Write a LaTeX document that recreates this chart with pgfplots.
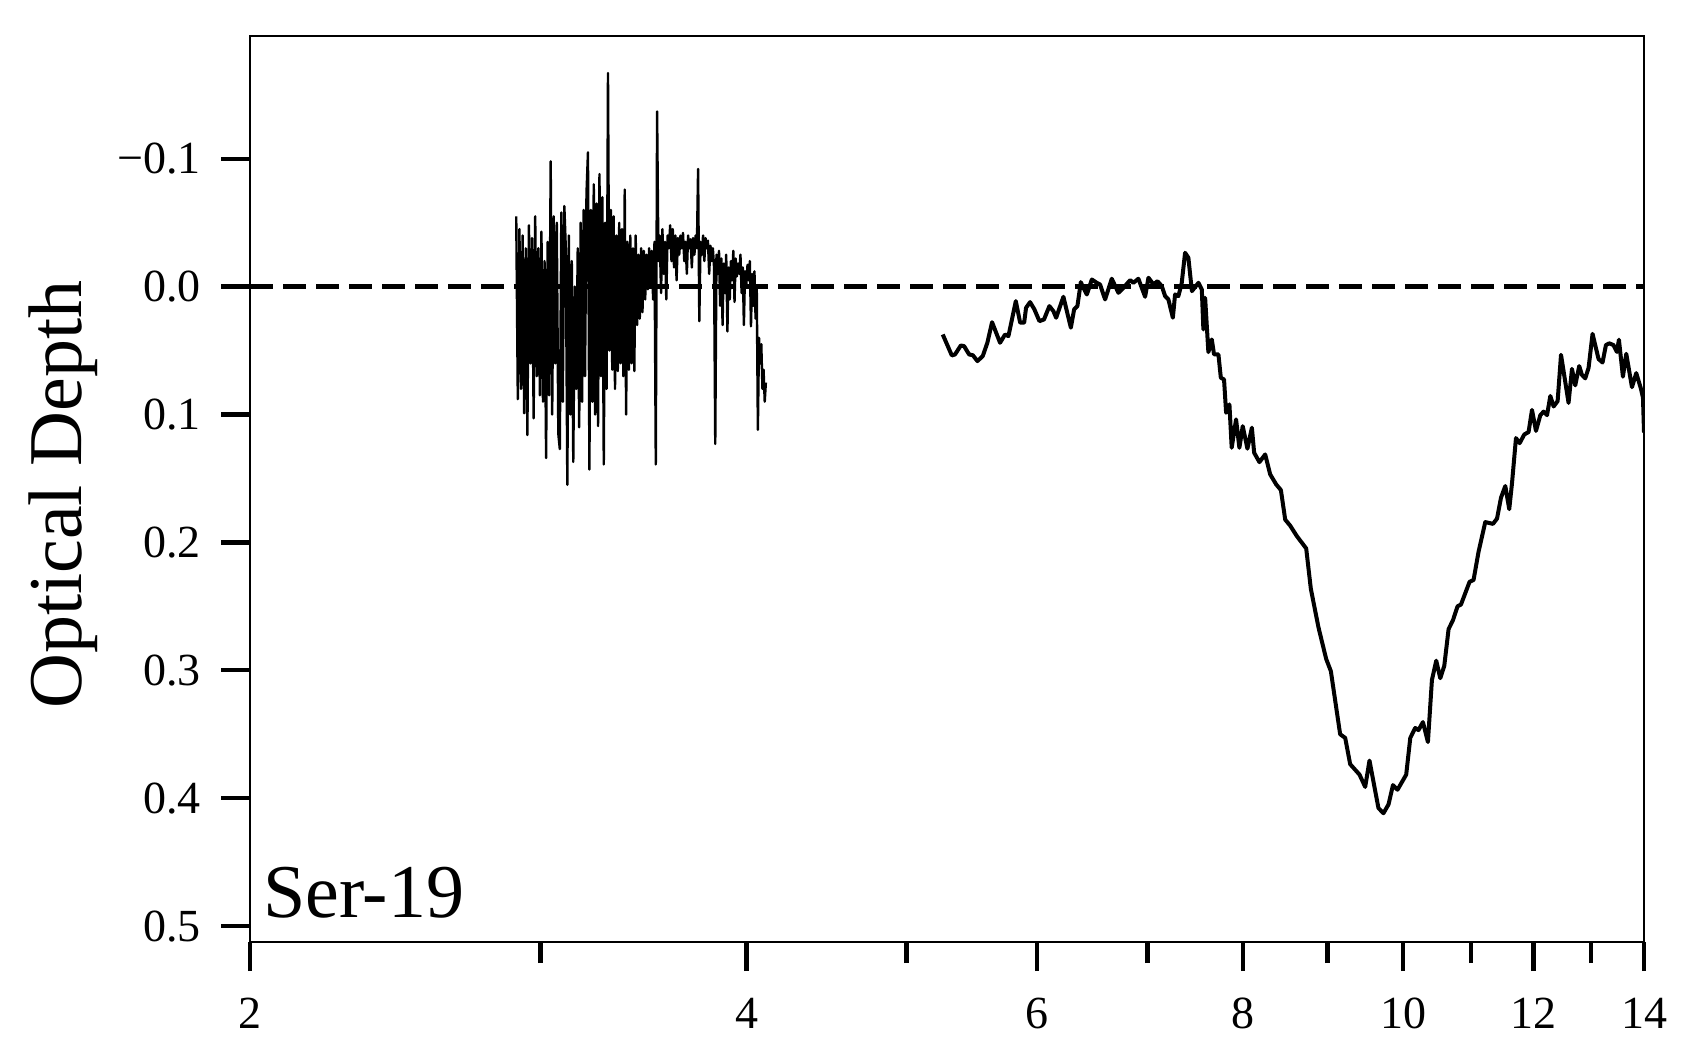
\documentclass[border=0pt]{standalone}
\usepackage{fontspec}
\setmainfont{Liberation Serif}
\usepackage{pgfplots}
\pgfplotsset{compat=1.18}
\begin{document}
\begin{tikzpicture}
\useasboundingbox (-62.5pt,-30pt) rectangle (362.25pt,235.5pt);
\begin{axis}[
  at={(0pt,0pt)}, anchor=south west,
  scale only axis, width=348.5pt, height=226.5pt,
  xmode=log, xmin=2, xmax=14,
  ymin=-0.196, ymax=0.5125, y dir=reverse,
  xtick={2,4,6,8,10,12,14}, xticklabels={2,4,6,8,10,12,14},
  minor xtick={3,5,7,9,11,13},
  ytick={-0.1,0,0.1,0.2,0.3,0.4,0.5},
  yticklabels={−0.1,0.0,0.1,0.2,0.3,0.4,0.5},
  xtick pos=left, ytick pos=left, tick align=outside,
  major tick length=7.25pt, minor tick length=5.25pt,
  tick style={black, line width=1.1pt},
  axis line style={line width=0.55pt},
  tick label style={font=\fontsize{11.5}{13}\selectfont},
  xticklabel style={yshift=-3.2pt},
  yticklabel style={xshift=-1.5pt},
  ylabel={Optical Depth},
  ylabel style={font=\fontsize{19}{22}\selectfont, at={(axis description cs:-0.1343,0.494)}, anchor=center},
]
% noisy short-wavelength segment
\addplot[black, line width=0.6pt, line join=round] table {
x y
2.9000 -0.055
2.9065 0.088
2.9130 -0.045
2.9195 0.080
2.9260 -0.040
2.9325 0.099
2.9390 -0.030
2.9455 0.116
2.9520 -0.048
2.9585 0.060
2.9650 -0.038
2.9715 0.103
2.9780 -0.055
2.9845 0.070
2.9910 -0.030
2.9975 0.085
3.0040 -0.043
3.0105 0.090
3.0170 -0.020
3.0235 0.134
3.0300 -0.035
3.0365 0.085
3.0430 -0.098
3.0495 0.100
3.0560 -0.055
3.0625 0.060
3.0690 -0.050
3.0755 0.115
3.0820 0.127
3.0885 -0.058
3.0950 0.090
3.1015 -0.063
3.1080 -0.030
3.1145 0.155
3.1210 -0.040
3.1275 0.100
3.1340 -0.020
3.1405 0.137
3.1470 0.000
3.1535 0.080
3.1600 -0.030
3.1665 0.110
3.1730 -0.050
3.1795 0.090
3.1860 -0.060
3.1925 0.070
3.1990 -0.073
3.2055 -0.105
3.2120 0.143
3.2185 -0.060
3.2250 0.090
3.2315 -0.080
3.2380 0.100
3.2445 -0.065
3.2510 0.109
3.2575 -0.088
3.2640 0.070
3.2705 -0.070
3.2770 0.139
3.2835 -0.050
3.2900 0.080
3.2965 -0.167
3.3030 0.050
3.3095 -0.060
3.3160 0.065
3.3225 -0.055
3.3290 0.080
3.3355 -0.040
3.3420 0.066
3.3485 -0.050
3.3550 0.060
3.3615 -0.045
3.3680 0.070
3.3745 -0.076
3.3810 0.100
3.3875 -0.035
3.3940 0.065
3.4005 -0.040
3.4070 0.060
3.4135 -0.030
3.4200 0.066
3.4265 -0.040
3.4330 0.030
3.4395 -0.025
3.4460 0.025
3.4525 -0.030
3.4590 0.020
3.4655 -0.028
3.4720 0.010
3.4785 -0.025
3.4850 0.002
3.4915 -0.030
3.4980 0.000
3.5045 -0.028
3.5110 0.010
3.5175 -0.035
3.5240 0.139
3.5305 -0.137
3.5370 -0.020
3.5435 -0.040
3.5500 0.005
3.5565 -0.045
3.5630 -0.010
3.5695 -0.035
3.5760 0.010
3.5825 -0.040
3.5890 -0.030
3.5955 -0.048
3.6020 -0.020
3.6085 -0.045
3.6150 -0.015
3.6215 -0.040
3.6280 -0.005
3.6345 -0.038
3.6410 -0.025
3.6475 -0.040
3.6540 -0.030
3.6605 -0.042
3.6670 -0.020
3.6735 -0.035
3.6800 -0.010
3.6865 -0.040
3.6930 -0.030
3.6995 -0.037
3.7060 -0.015
3.7125 -0.038
3.7190 -0.025
3.7255 -0.040
3.7320 -0.030
3.7385 -0.092
3.7450 0.027
3.7515 -0.035
3.7580 -0.025
3.7645 -0.040
3.7710 -0.020
3.7775 -0.038
3.7840 -0.030
3.7905 -0.036
3.7970 -0.010
3.8035 -0.032
3.8100 -0.020
3.8165 -0.030
3.8230 -0.015
3.8295 0.123
3.8360 -0.025
3.8425 -0.010
3.8490 -0.028
3.8555 0.015
3.8620 -0.022
3.8685 0.030
3.8750 -0.018
3.8815 0.005
3.8880 -0.025
3.8945 0.035
3.9010 -0.015
3.9075 0.010
3.9140 -0.020
3.9205 -0.005
3.9270 -0.028
3.9335 0.012
3.9400 -0.022
3.9465 -0.008
3.9530 -0.018
3.9595 -0.010
3.9660 -0.025
3.9725 0.005
3.9790 -0.015
3.9855 0.030
3.9920 -0.012
3.9985 0.000
4.0050 -0.017
4.0115 -0.005
4.0180 -0.020
4.0245 0.031
4.0310 -0.010
4.0375 0.015
4.0440 -0.012
4.0505 0.025
4.0570 0.000
4.0635 0.112
4.0700 0.040
4.0765 0.060
4.0830 0.045
4.0895 0.080
4.0960 0.065
4.1025 0.090
4.1090 0.075
};
% long-wavelength segment
\addplot[black, line width=1.0pt, line join=round] table {
x y
5.260 0.0374
5.327 0.0538
5.351 0.0530
5.394 0.0460
5.419 0.0465
5.457 0.0530
5.485 0.0536
5.521 0.0582
5.562 0.0543
5.598 0.0439
5.635 0.0278
5.698 0.0439
5.738 0.0374
5.765 0.0387
5.825 0.0113
5.860 0.0282
5.893 0.0282
5.909 0.0165
5.942 0.0121
5.978 0.0178
6.020 0.0270
6.059 0.0256
6.104 0.0152
6.139 0.0192
6.162 0.0243
6.225 0.0079
6.290 0.0321
6.319 0.0178
6.348 0.0152
6.378 -0.0035
6.401 0.0009
6.432 0.0061
6.477 -0.0056
6.522 -0.0030
6.552 -0.0017
6.598 0.0100
6.660 -0.0062
6.722 0.0048
6.769 0.0009
6.833 -0.0051
6.864 -0.0030
6.912 -0.0062
6.977 0.0079
7.010 -0.0070
7.059 -0.0017
7.098 -0.0043
7.142 -0.0004
7.175 0.0074
7.208 0.0100
7.253 0.0243
7.276 0.0061
7.309 0.0074
7.344 -0.0030
7.378 -0.0265
7.412 -0.0226
7.448 0.0035
7.516 -0.0030
7.552 0.0022
7.569 0.0335
7.587 0.0087
7.622 0.0512
7.658 0.0413
7.683 0.0530
7.729 0.0530
7.755 0.0712
7.791 0.0726
7.813 0.0986
7.849 0.0921
7.875 0.1260
7.922 0.1038
7.959 0.1260
7.997 0.1091
8.048 0.1267
8.098 0.1103
8.124 0.1299
8.184 0.1372
8.250 0.1312
8.308 0.1468
8.378 0.1547
8.433 0.1591
8.484 0.1822
8.543 0.1869
8.623 0.1951
8.736 0.2047
8.793 0.2363
8.887 0.2664
8.983 0.2911
9.042 0.3007
9.160 0.3500
9.225 0.3529
9.289 0.3734
9.411 0.3816
9.486 0.3912
9.543 0.3706
9.663 0.4077
9.731 0.4118
9.800 0.4049
9.861 0.3898
9.924 0.3934
10.045 0.3816
10.102 0.3529
10.172 0.3451
10.219 0.3468
10.282 0.3405
10.354 0.3561
10.412 0.3076
10.475 0.2925
10.534 0.3062
10.593 0.2966
10.657 0.2678
10.722 0.2609
10.791 0.2500
10.843 0.2486
10.974 0.2308
11.035 0.2294
11.112 0.2074
11.217 0.1841
11.338 0.1855
11.402 0.1814
11.466 0.1650
11.535 0.1559
11.599 0.1740
11.643 0.1540
11.708 0.1184
11.768 0.1224
11.845 0.1156
11.916 0.1137
11.973 0.0964
12.040 0.1128
12.113 0.1005
12.169 0.0977
12.227 0.1005
12.283 0.0855
12.340 0.0937
12.409 0.0895
12.468 0.0533
12.600 0.0909
12.660 0.0643
12.718 0.0772
12.789 0.0621
12.838 0.0690
12.897 0.0717
12.957 0.0635
13.029 0.0369
13.139 0.0566
13.212 0.0593
13.275 0.0457
13.336 0.0443
13.417 0.0457
13.480 0.0511
13.518 0.0415
13.594 0.0704
13.657 0.0525
13.766 0.0786
13.849 0.0676
13.940 0.0799
13.979 0.0868
14.000 0.1142
};
\addplot[black, line width=1.1pt, dash pattern=on 5.75pt off 2.5pt] coordinates {(2,0) (14,0)};
\node[anchor=base west, xshift=-4pt, font=\fontsize{19}{22}\selectfont] at (axis description cs:0.0108,0.0276) {Ser-19};
\end{axis}
\end{tikzpicture}
\end{document}
